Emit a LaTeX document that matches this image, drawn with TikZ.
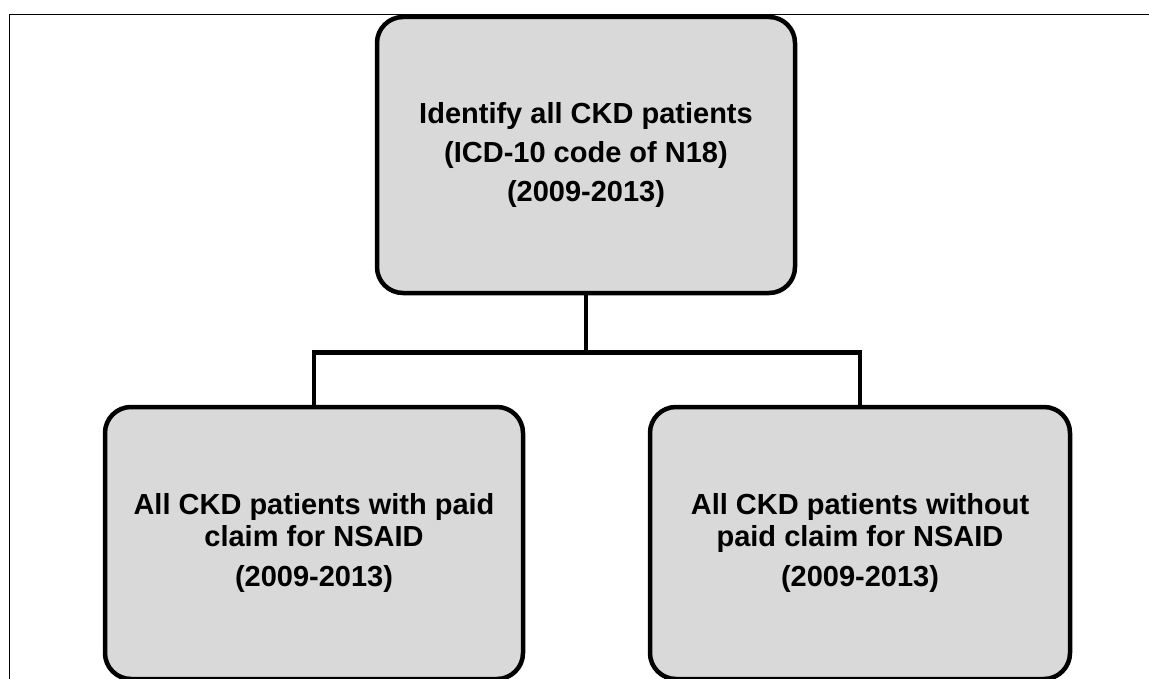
\documentclass[tikz,border=0pt]{standalone}
\usepackage{fontspec}
\setmainfont{Liberation Sans}
\definecolor{boxgray}{HTML}{D9D9D9}
\begin{document}
\begin{tikzpicture}[x=1pt,y=-1pt,
  stepbox/.style={draw=black, line width=4.5pt, fill=boxgray, rounded corners=26pt,
    align=center, inner sep=0pt},
  topfont/.style={font=\bfseries\fontsize{29}{39}\selectfont},
  subfont/.style={font=\bfseries\fontsize{29}{32}\selectfont},
  conn/.style={draw=black, line width=4.5pt},
  frameline/.style={draw=black, line width=1.5pt}]
\useasboundingbox (0,0) rectangle (1149,679);
\draw[frameline] (9.5,690) -- (9.5,14.5) -- (1160,14.5);
\node[stepbox, topfont, minimum width=418pt, minimum height=276pt] (top) at (586,155)
  {Identify all CKD patients\\(ICD-10 code of N18)\\(2009-2013)};
\node[stepbox, subfont, minimum width=418pt, minimum height=272pt] (left) at (314,543)
  {All CKD patients with paid\\claim for NSAID\\[8pt](2009-2013)};
\node[stepbox, subfont, minimum width=420pt, minimum height=272pt] (right) at (860,543)
  {All CKD patients without\\paid claim for NSAID\\[8pt](2009-2013)};
\draw[conn] (top.south) -- ++(0,57) coordinate (j);
\draw[conn] (left.north) |- (j) -| (right.north);
\end{tikzpicture}
\end{document}
